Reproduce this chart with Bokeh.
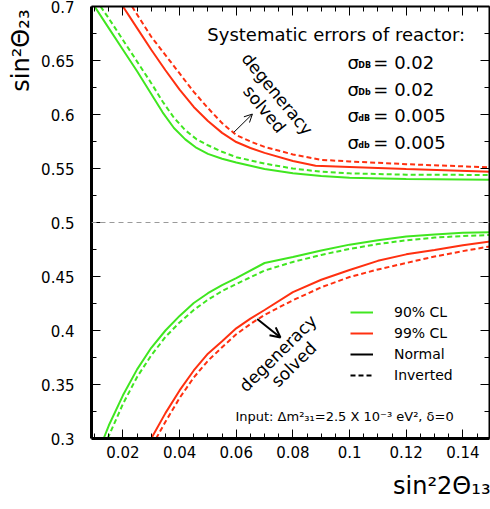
import math
import numpy as np
from bokeh.plotting import figure
from bokeh.models import (Range1d, LinearAxis, FixedTicker, Span, Label, Arrow, Title,
                          OpenHead, Legend, LegendItem, ColumnDataSource)
from bokeh.embed import file_html
from bokeh.resources import INLINE

# ---------------- data ----------------
# upper branch (sin^2 theta23 > 0.5)
green_norm_up_x = [0.0100, 0.0150, 0.0200, 0.0250, 0.0300, 0.0340, 0.0380, 0.0420, 0.0460,
                   0.0500, 0.0550, 0.0600, 0.0700, 0.0800, 0.0900, 0.1000, 0.1200, 0.1500]
green_norm_up_y = [0.700, 0.680, 0.660, 0.640, 0.619, 0.602, 0.5875, 0.577, 0.569,
                   0.5635, 0.559, 0.5555, 0.5495, 0.5455, 0.543, 0.5415, 0.5402, 0.5396]

green_inv_up_x = [0.0121, 0.0150, 0.0200, 0.0250, 0.0300, 0.0340, 0.0380, 0.0420, 0.0460,
                  0.0500, 0.0550, 0.0600, 0.0700, 0.0800, 0.0900, 0.1000, 0.1200, 0.1500]
green_inv_up_y = [0.700, 0.689, 0.669, 0.649, 0.629, 0.612, 0.597, 0.5855, 0.577,
                  0.5715, 0.5655, 0.5605, 0.5545, 0.550, 0.547, 0.5455, 0.5443, 0.5440]

red_norm_up_x = [0.0200, 0.0250, 0.0300, 0.0350, 0.0400, 0.0450, 0.0500, 0.0550, 0.0600,
                 0.0650, 0.0700, 0.0800, 0.0880, 0.1000, 0.1200, 0.1500]
red_norm_up_y = [0.700, 0.680, 0.660, 0.641, 0.623, 0.607, 0.594, 0.583, 0.5745,
                 0.569, 0.5645, 0.557, 0.5525, 0.5515, 0.5495, 0.547]

red_inv_up_x = [0.0232, 0.0300, 0.0350, 0.0400, 0.0450, 0.0500, 0.0550, 0.0600, 0.0650,
                0.0700, 0.0800, 0.0900, 0.1000, 0.1200, 0.1500]
red_inv_up_y = [0.700, 0.672, 0.655, 0.638, 0.621, 0.606, 0.592, 0.581, 0.575,
                0.570, 0.563, 0.558, 0.5565, 0.554, 0.551]

# lower branch (sin^2 theta23 < 0.5)
green_norm_lo_x = [0.0132, 0.0150, 0.0200, 0.0250, 0.0300, 0.0350, 0.0400, 0.0450, 0.0500,
                   0.0550, 0.0600, 0.0700, 0.0800, 0.0900, 0.1000, 0.1100, 0.1200, 0.1300,
                   0.1400, 0.1500]
green_norm_lo_y = [0.300, 0.312, 0.340, 0.364, 0.384, 0.400, 0.4135, 0.4255, 0.4345,
                   0.442, 0.4485, 0.4625, 0.468, 0.474, 0.4795, 0.4835, 0.487, 0.489,
                   0.4905, 0.491]

green_inv_lo_x = [0.0146, 0.0200, 0.0250, 0.0300, 0.0350, 0.0400, 0.0450, 0.0500, 0.0550,
                  0.0600, 0.0700, 0.0800, 0.0900, 0.1000, 0.1100, 0.1200, 0.1300, 0.1400,
                  0.1500]
green_inv_lo_y = [0.300, 0.332, 0.357, 0.377, 0.394, 0.4075, 0.419, 0.4285, 0.4365,
                  0.443, 0.4555, 0.4635, 0.470, 0.4755, 0.480, 0.4835, 0.486, 0.4875,
                  0.4885]

red_norm_lo_x = [0.0300, 0.0350, 0.0400, 0.0450, 0.0500, 0.0550, 0.0600, 0.0650, 0.0700,
                 0.0800, 0.0900, 0.1000, 0.1100, 0.1200, 0.1300, 0.1400, 0.1500]
red_norm_lo_y = [0.300, 0.3235, 0.3445, 0.363, 0.3785, 0.390, 0.402, 0.411, 0.419,
                 0.4355, 0.447, 0.456, 0.4645, 0.4705, 0.4745, 0.479, 0.4826]

red_inv_lo_x = [0.0317, 0.0350, 0.0400, 0.0450, 0.0500, 0.0550, 0.0600, 0.0650, 0.0700,
                0.0800, 0.0900, 0.1000, 0.1100, 0.1200, 0.1300, 0.1400, 0.1500]
red_inv_lo_y = [0.300, 0.3155, 0.3375, 0.3565, 0.372, 0.3845, 0.3965, 0.406, 0.4145,
                0.428, 0.440, 0.4495, 0.4565, 0.4625, 0.4685, 0.4735, 0.478]

# ticks
xtick_vals = [0.02, 0.04, 0.06, 0.08, 0.10, 0.12, 0.14]
xtick_labels = ["0.02", "0.04", "0.06", "0.08", "0.1", "0.12", "0.14"]
xtick_minor = [0.010, 0.015, 0.025, 0.030, 0.035, 0.045, 0.050, 0.055, 0.065, 0.070, 0.075,
               0.085, 0.090, 0.095, 0.105, 0.110, 0.115, 0.125, 0.130, 0.135, 0.145]
ytick_vals = [0.3, 0.35, 0.4, 0.45, 0.5, 0.55, 0.6, 0.65, 0.7]
ytick_labels = ["0.3", "0.35", "0.4", "0.45", "0.5", "0.55", "0.6", "0.65", "0.7"]
ytick_minor = [0.325, 0.375, 0.425, 0.475, 0.525, 0.575, 0.625, 0.675]

x_title = "sin²2Θ₁₃"
y_title = "sin²Θ₂₃"
legend_labels = ["90% CL", "99% CL", "Normal", "Inverted"]
sigma_subs = ["DB", "Db", "dB", "db"]
sigma_vals = ["0.02", "0.02", "0.005", "0.005"]

# ---------------- styling ----------------
GREEN = "#40e620"
RED = "#ff3010"
FONT = "DejaVu Sans"
DASH = "5 3"

p = figure(width=490, height=509,
           x_range=Range1d(0.0089, 0.1494), y_range=Range1d(0.3, 0.7),
           output_backend="svg", toolbar_location=None,
           min_border_left=91, min_border_right=1, min_border_top=6, min_border_bottom=71)
p.grid.visible = False
p.outline_line_color = None
p.background_fill_color = "white"
p.border_fill_color = "white"

xticker = FixedTicker(ticks=xtick_vals, minor_ticks=xtick_minor)
yticker = FixedTicker(ticks=ytick_vals, minor_ticks=ytick_minor)


def style_axis(ax, ticker, vals, labels, width, show):
    ax.ticker = ticker
    ax.axis_line_width = width
    ax.axis_line_color = "black"
    ax.major_tick_in = 9
    ax.major_tick_out = 0
    ax.minor_tick_in = 5
    ax.minor_tick_out = 0
    ax.major_tick_line_color = "black"
    ax.minor_tick_line_color = "black"
    ax.major_tick_line_width = 1
    ax.minor_tick_line_width = 1
    if show:
        ax.major_label_overrides = {v: s for v, s in zip(vals, labels)}
        ax.major_label_text_font = FONT
        ax.major_label_text_font_size = "15px"
        ax.major_label_text_color = "black"
    else:
        ax.major_label_overrides = {v: "" for v in vals}
        ax.major_label_text_font_size = "1px"
        ax.major_label_standoff = 0


style_axis(p.xaxis[0], xticker, xtick_vals, xtick_labels, 3, True)
p.xaxis[0].major_label_standoff = 7
style_axis(p.yaxis[0], yticker, ytick_vals, ytick_labels, 3, True)
p.yaxis[0].major_label_standoff = 17

top_axis = LinearAxis()
style_axis(top_axis, xticker, xtick_vals, xtick_labels, 2, False)
p.add_layout(top_axis, "above")
right_axis = LinearAxis()
style_axis(right_axis, yticker, ytick_vals, ytick_labels, 2, False)
p.add_layout(right_axis, "right")

# axis titles (placed at the ends of the axes, as in the reference)
p.add_layout(Title(text=x_title, align="right", offset=-1, standoff=18,
                   text_font=FONT, text_font_size="24px", text_font_style="normal",
                   text_color="black"), "below")
p.add_layout(Title(text=y_title, align="right", offset=3, standoff=7,
                   text_font=FONT, text_font_size="24px", text_font_style="normal",
                   text_color="black"), "left")

p.add_layout(Span(location=0.5, dimension="width", line_color="#9a9a9a",
                  line_width=1, line_dash="5 4"))

r_g_up = p.line(green_norm_up_x, green_norm_up_y, line_color=GREEN, line_width=2)
p.line(green_inv_up_x, green_inv_up_y, line_color=GREEN, line_width=2, line_dash=DASH)
r_r_up = p.line(red_norm_up_x, red_norm_up_y, line_color=RED, line_width=2)
p.line(red_inv_up_x, red_inv_up_y, line_color=RED, line_width=2, line_dash=DASH)
p.line(green_norm_lo_x, green_norm_lo_y, line_color=GREEN, line_width=2)
p.line(green_inv_lo_x, green_inv_lo_y, line_color=GREEN, line_width=2, line_dash=DASH)
p.line(red_norm_lo_x, red_norm_lo_y, line_color=RED, line_width=2)
p.line(red_inv_lo_x, red_inv_lo_y, line_color=RED, line_width=2, line_dash=DASH)

# legend-only renderers (no visible data)
blank = ColumnDataSource(data=dict(x=np.array([np.nan]), y=np.array([np.nan])))
r_norm = p.line("x", "y", source=blank, line_color="black", line_width=2)
r_inv = p.line("x", "y", source=blank, line_color="black", line_width=2, line_dash=DASH)

legend = Legend(items=[LegendItem(label=legend_labels[0], renderers=[r_g_up]),
                       LegendItem(label=legend_labels[1], renderers=[r_r_up]),
                       LegendItem(label=legend_labels[2], renderers=[r_norm]),
                       LegendItem(label=legend_labels[3], renderers=[r_inv])],
                location=(259, 53), glyph_width=23, glyph_height=20, label_height=20,
                label_standoff=21, spacing=1, padding=0, margin=0,
                border_line_color=None, background_fill_alpha=0,
                label_text_font=FONT, label_text_font_size="14px",
                label_text_color="black")
p.add_layout(legend)


def lab(text, x, y, size, **kw):
    opts = dict(text_font=FONT, text_font_size=size, text_color="black",
                text_baseline="alphabetic", text_align="left")
    opts.update(kw)
    p.add_layout(Label(x=x, y=y, text=text, **opts))


# title text
lab("Systematic errors of reactor:", 0.0498, 0.6744, "18px")

# sigma rows
sig_y = [0.6482, 0.6235, 0.5988, 0.5741]
for sub, val, yy in zip(sigma_subs, sigma_vals, sig_y):
    lab("σ", 0.0993, yy, "18px")
    lab(sub, 0.1031, yy, "8px", text_font_style="bold", y_offset=-3)
    lab("= " + val, 0.1084, yy, "18px")

# degeneracy solved (upper)
lab("degeneracy", 0.0745, 0.6190, "17px", angle=-0.88, text_align="center",
    text_baseline="middle")
lab("solved", 0.0700, 0.6050, "17px", angle=-0.88, text_align="center",
    text_baseline="middle")
p.add_layout(Arrow(x_start=0.0591, y_start=0.5834, x_end=0.0657, y_end=0.6004,
                   line_width=1, end=OpenHead(size=8, line_width=1)))

# degeneracy solved (lower)
lab("degeneracy", 0.0747, 0.3789, "17px", angle=0.78, text_align="center",
    text_baseline="middle")
lab("solved", 0.0803, 0.3686, "17px", angle=0.78, text_align="center",
    text_baseline="middle")
p.add_layout(Arrow(x_start=0.0674, y_start=0.4106, x_end=0.0756, y_end=0.3935,
                   line_width=2, end=OpenHead(size=10, line_width=2)))

# input
lab("Input: Δm²₃₁=2.5 X 10⁻³ eV², δ=0", 0.0597, 0.3201, "13px")

open("out.html", "w").write(file_html(p, INLINE))
